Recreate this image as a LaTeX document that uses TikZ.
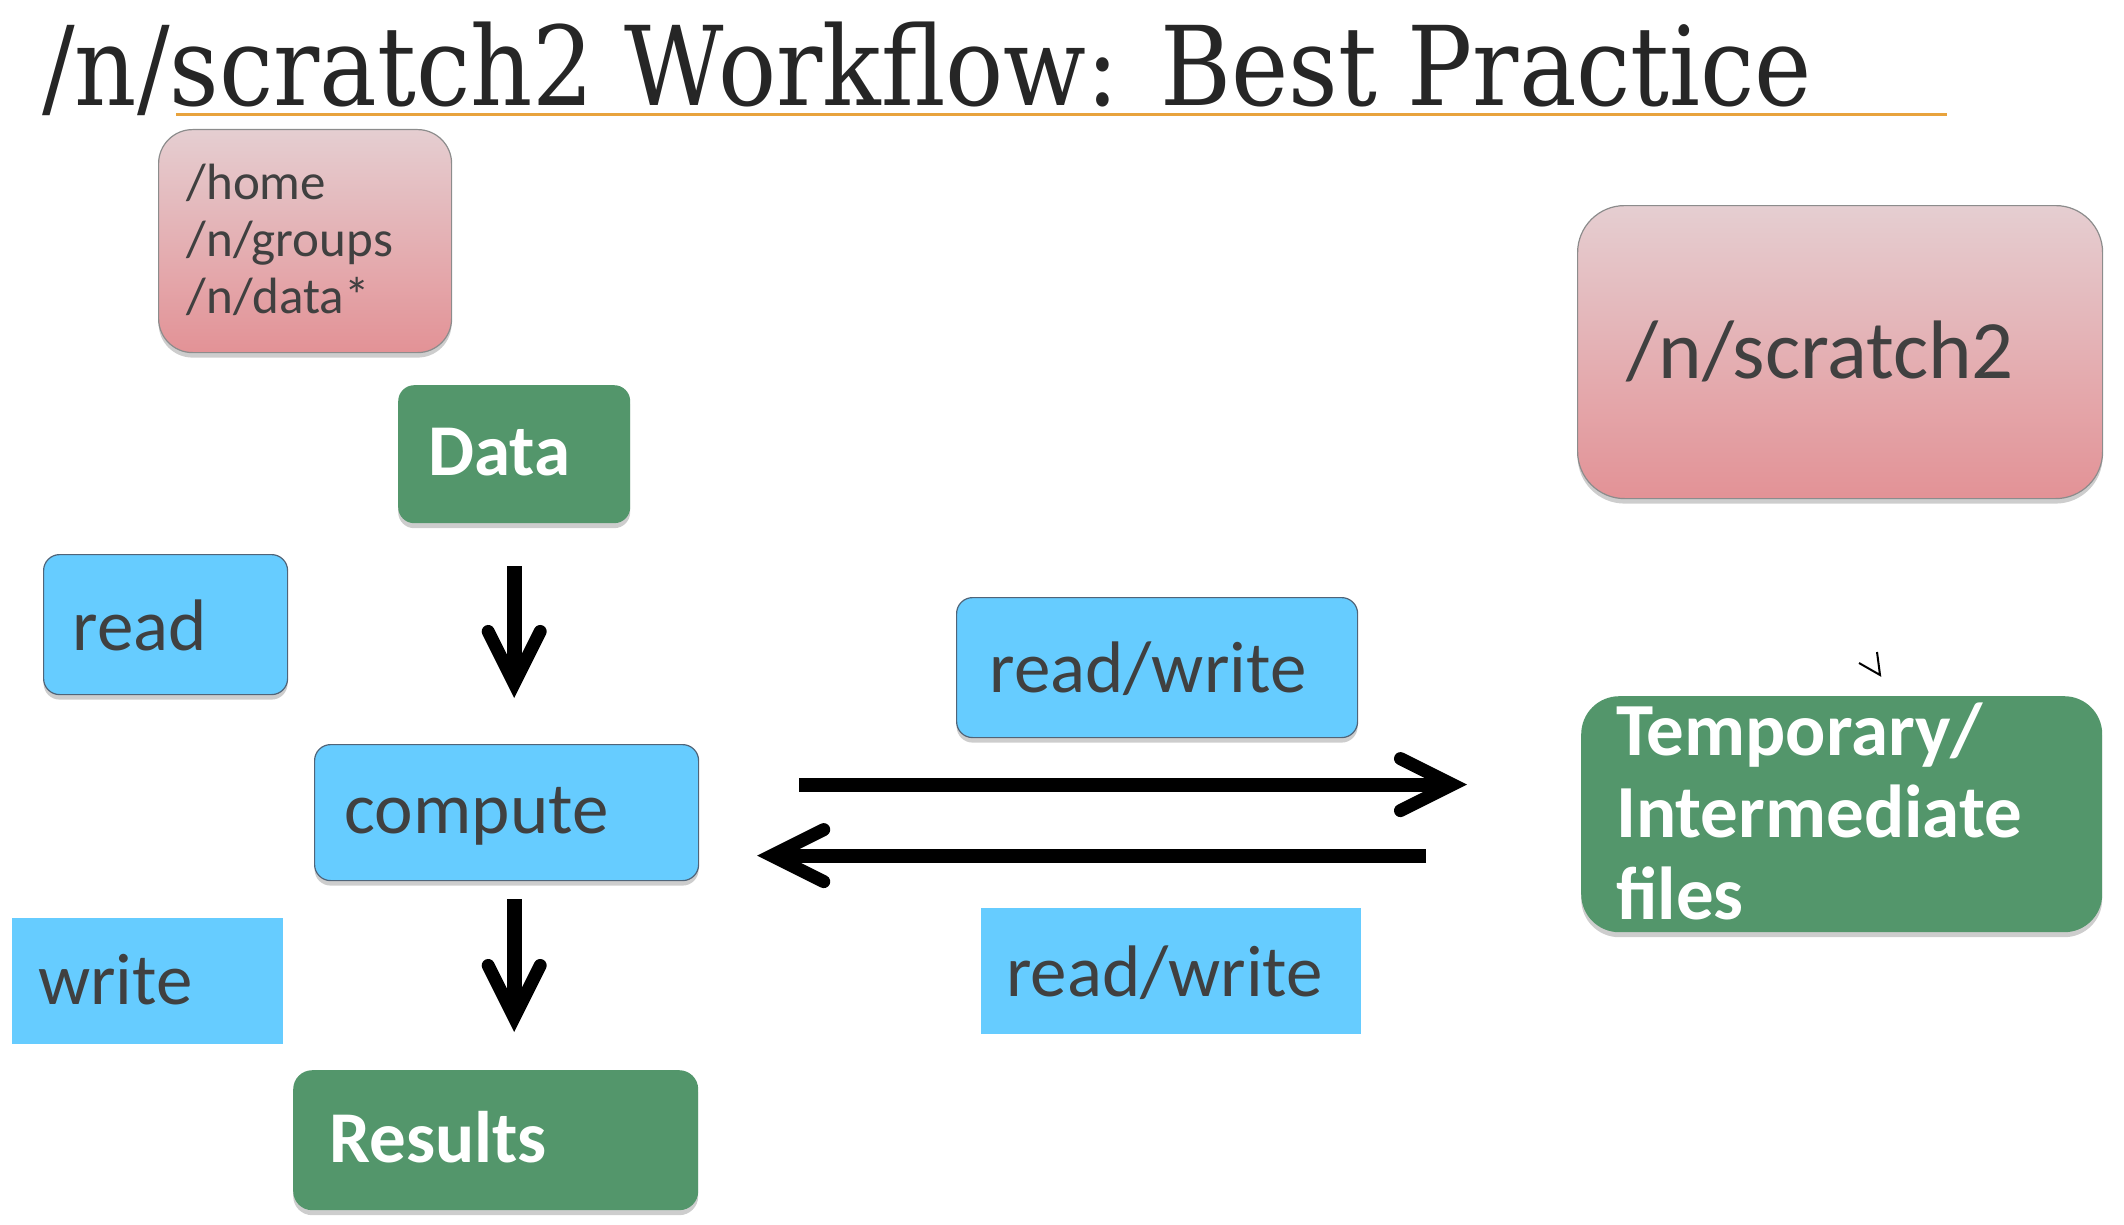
\documentclass[tikz,border=0pt]{standalone}
\usepackage{fontspec}
\usetikzlibrary{arrows.meta,shadows,calc}
\newfontfamily\calfont{Carlito}
\newfontfamily\ttlfont{DejaVu Serif}
\definecolor{pinktop}{RGB}{229,206,209}
\definecolor{pinkbot}{RGB}{227,146,150}
\definecolor{grn}{RGB}{83,150,107}
\definecolor{blu}{RGB}{102,204,255}
\definecolor{bluline}{RGB}{80,100,120}
\definecolor{txtgray}{RGB}{64,64,64}
\definecolor{orng}{RGB}{232,163,61}
\tikzset{
  shd/.style={drop shadow={shadow xshift=0pt,shadow yshift=-5pt,opacity=0.28,fill=black!70}},
  pinkbox/.style={shd,draw=black!45,line width=1.2pt,top color=pinktop,bottom color=pinkbot,
    text=txtgray,align=left,inner ysep=0pt,anchor=north west,font=\calfont},
  grnbox/.style={shd,fill=grn,text=white,align=left,inner ysep=0pt,anchor=north west,
    font=\calfont\bfseries},
  blubox/.style={shd,fill=blu,draw=bluline,line width=1.2pt,text=txtgray,align=left,
    inner ysep=0pt,anchor=north west,font=\calfont\fontsize{73}{80}\selectfont},
  bluplain/.style={fill=blu,text=txtgray,align=left,inner ysep=0pt,anchor=north west,
    font=\calfont\fontsize{73}{80}\selectfont},
  bigarrow/.style={line width=14pt,-{Straight Barb[length=52pt,width=52pt,line width=13pt,line cap=round,line join=miter]}},
}
\begin{document}
\begin{tikzpicture}[x=1pt,y=-1pt]
\useasboundingbox (0,0) rectangle (2124,1225);
% title
\node[anchor=base west,inner sep=0pt,text=black!85] (title) at (42,106)
  {\resizebox{1770pt}{\height}{\ttlfont\fontsize{110}{112}\selectfont /n/scratch2 Workflow: Best Practice}};
\coordinate (ulA) at (176,115);
\coordinate (ulB) at (1947,115);
\draw[orng,line width=3pt] (ulA) -- (ulB);
% pink boxes
\node[pinkbox,rounded corners=34pt,inner xsep=28pt,text width=237pt,text height=70pt,text depth=153pt,
  font=\calfont\fontsize{51}{57}\selectfont] (home) at (158,129)
  {/home\\/n/groups\\/n/data*};
\node[pinkbox,rounded corners=47pt,inner xsep=49pt,text width=427pt,text height=173pt,text depth=120pt,
  font=\calfont\fontsize{83}{90}\selectfont] (scratch) at (1577,205) {/n/scratch2};
% green boxes
\node[grnbox,rounded corners=16pt,inner xsep=30pt,text width=172pt,text height=90pt,text depth=48pt,
  font=\calfont\bfseries\fontsize{73}{80}\selectfont] (data) at (398,385) {Data};
\node[grnbox,rounded corners=19pt,inner xsep=36pt,text width=333pt,text height=92pt,text depth=48pt,
  font=\calfont\bfseries\fontsize{73}{80}\selectfont] (results) at (293,1070) {Results};
\node[grnbox,rounded corners=38pt,inner xsep=35pt,text width=451pt,text height=59pt,text depth=177pt,
  font=\calfont\bfseries\fontsize{75}{82}\selectfont] (temp) at (1581,696)
  {Temporary/\\Intermediate\\files};
% blue boxes
\node[blubox,rounded corners=16pt,inner xsep=29pt,text width=186pt,text height=96pt,text depth=44pt] (read) at (43,554) {read};
\node[blubox,rounded corners=16pt,inner xsep=30pt,text width=324pt,text height=89pt,text depth=47pt] (compute) at (314,744) {compute};
\node[blubox,rounded corners=16pt,inner xsep=33pt,text width=335pt,text height=95pt,text depth=45pt] (rw1) at (956,597) {read/write};
\node[bluplain,inner xsep=26pt,text width=219pt,text height=86pt,text depth=40pt] (write) at (12,918) {write};
\node[bluplain,inner xsep=25pt,text width=330pt,text height=88pt,text depth=38pt] (rw2) at (981,908) {read/write};
% arrows
\draw[bigarrow,line width=15pt,shorten <=43pt,shorten >=46pt] (data.south) -- (data.south |- compute.north);
\draw[bigarrow,line width=15pt,shorten <=18pt,shorten >=38pt] (data.south |- compute.south) -- (data.south |- results.north);
\draw[bigarrow,shorten <=100pt,shorten >=114pt] ([yshift=28pt]compute.east) -- ([yshift=28pt]compute.east -| temp.west);
\draw[bigarrow,shorten <=155pt,shorten >=58pt] ([yshift=-43pt]compute.east -| temp.west) -- ([yshift=-43pt]compute.east);
% small mark
\coordinate (mA) at (1859,663);
\coordinate (mB) at (1880,675);
\coordinate (mC) at (1877,652);
\draw[line width=2pt,line join=miter] (mA) -- (mB) -- (mC);
\end{tikzpicture}
\end{document}
